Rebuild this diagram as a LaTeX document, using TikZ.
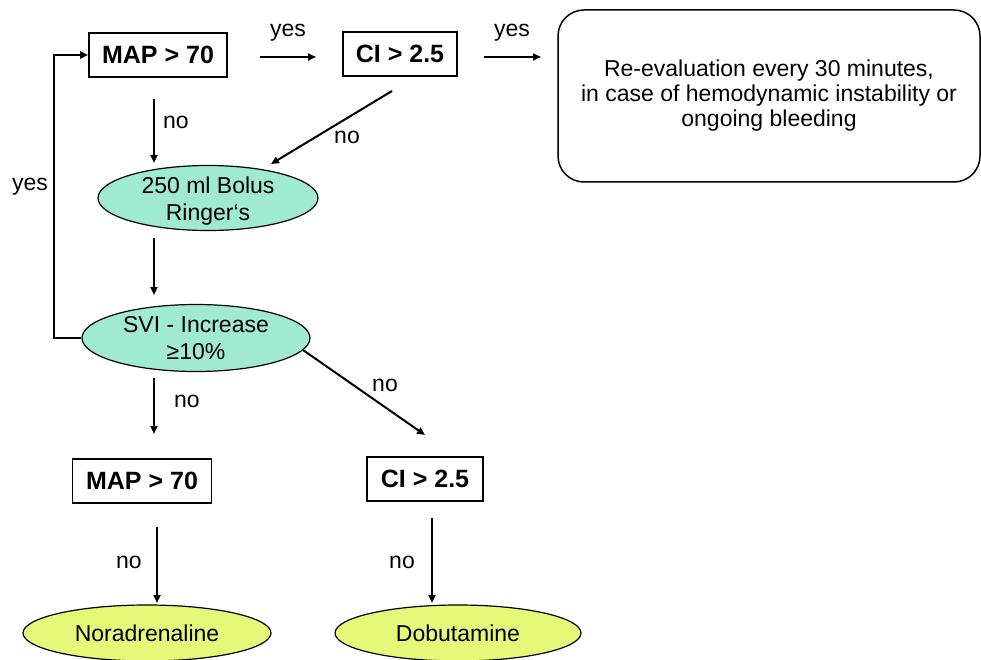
\documentclass[tikz,border=0pt]{standalone}
\usepackage{fontspec}
\setmainfont{Liberation Sans}
\usetikzlibrary{shapes.geometric,arrows.meta}
\definecolor{mint}{RGB}{160,234,210}
\definecolor{lime}{RGB}{230,248,120}
\begin{document}
\begin{tikzpicture}[x=1pt,y=-1pt,
 box/.style={draw,line width=1.6pt,inner sep=0pt,font=\fontsize{25}{28}\selectfont\bfseries},
 oval/.style={ellipse,draw,line width=1.2pt,inner sep=0pt},
 ovaltext/.style={align=center,font=\fontsize{23}{27}\selectfont,inner sep=0pt},
 arr/.style={line width=2pt,-{Triangle[length=8pt,width=7pt]}},
 lab/.style={font=\fontsize{23}{27}\selectfont,inner sep=0pt}]
\path[use as bounding box] (0,0) rectangle (981,660);
% boxes
\node[box,minimum width=138pt,minimum height=44pt] (map1) at (158,55) {MAP > 70};
\node[box,minimum width=114pt,minimum height=44pt] (ci1) at (400,54) {CI > 2.5};
\node[draw,line width=1.5pt,rounded corners=26pt,minimum width=422pt,minimum height=172pt,
      align=center,font=\fontsize{23}{25}\selectfont] (reeval) at (769,96)
      {Re-evaluation every 30 minutes,\\in case of hemodynamic instability or\\ongoing bleeding};
\node[oval,fill=mint,minimum width=220pt,minimum height=65pt,
      label={[ovaltext,yshift=-3pt]center:250 ml Bolus\\Ringer‘s}] (bolus) at (208,198) {};
\node[oval,fill=mint,minimum width=228pt,minimum height=67pt,
      label={[ovaltext]center:SVI - Increase\\≥10\%}] (svi) at (196,338) {};
\node[box,minimum width=139pt,minimum height=44pt] (map2) at (142,481) {MAP > 70};
\node[box,minimum width=116pt,minimum height=44pt] (ci2) at (425,479) {CI > 2.5};
\node[oval,fill=lime,minimum width=248pt,minimum height=56pt,
      label={[ovaltext]center:Noradrenaline}] (nor) at (147,633) {};
\node[oval,fill=lime,minimum width=246pt,minimum height=56pt,
      label={[ovaltext]center:Dobutamine}] (dob) at (458,633) {};
% arrow end points
\coordinate (a1s) at (260,57); \coordinate (a1e) at (316,57);
\coordinate (a2s) at (484,57); \coordinate (a2e) at (541,57);
\coordinate (a3s) at (154,99); \coordinate (a3e) at (154,163);
\coordinate (a4s) at (392,91); \coordinate (a4e) at (271,164);
\coordinate (a5s) at (154,238); \coordinate (a5e) at (154,295);
\coordinate (a7s) at (154,378); \coordinate (a7e) at (154,434);
\coordinate (a8s) at (303,350); \coordinate (a8e) at (425,435);
\coordinate (a9s) at (157,527); \coordinate (a9e) at (157,603);
\coordinate (a10s) at (432,518); \coordinate (a10e) at (432,603);
% connectors
\draw[arr] (a1s) -- (a1e);
\draw[arr] (a2s) -- (a2e);
\draw[arr] (a3s) -- (a3e);
\draw[arr] (a4s) -- (a4e);
\draw[arr] (a5s) -- (a5e);
\draw[arr] (svi.west) -- ++(-27,0) |- (map1.west);
\draw[arr] (a7s) -- (a7e);
\draw[arr] (a8s) -- (a8e);
\draw[arr] (a9s) -- (a9e);
\draw[arr] (a10s) -- (a10e);
% labels
\node[lab] (y1) at (288,33) {yes};
\node[lab] (y2) at (512,33) {yes};
\node[lab] (n1) at (176,122) {no};
\node[lab] (n2) at (347,137) {no};
\node[lab] (y3) at (30,187) {yes};
\node[lab] (n3) at (187,401) {no};
\node[lab] (n4) at (385,385) {no};
\node[lab] (n5) at (129,562) {no};
\node[lab] (n6) at (402,562) {no};
\end{tikzpicture}
\end{document}
